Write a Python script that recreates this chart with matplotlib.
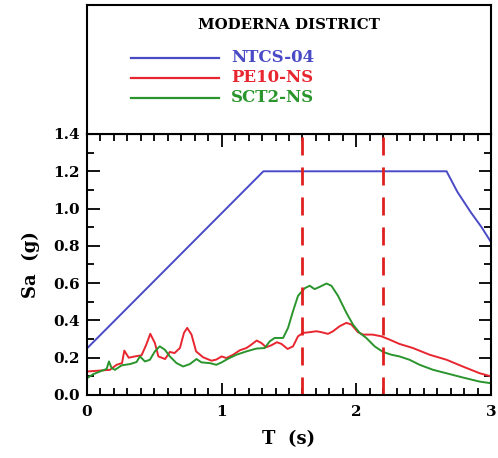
import matplotlib
matplotlib.use("Agg")
import matplotlib.pyplot as plt
from matplotlib.ticker import MultipleLocator

# Design spectrum NTCS-04 (period in s, spectral acceleration in g)
ntcs_T = [0.0, 1.31, 2.67, 2.75, 2.85, 2.93, 3.0]
ntcs_Sa = [0.25, 1.20, 1.20, 1.09, 0.98, 0.90, 0.82]

# Response spectrum PE10-NS
pe10_T = [0.0, 0.17, 0.22, 0.26, 0.277, 0.31, 0.356, 0.405, 0.44, 0.47, 0.504, 0.53,
          0.58, 0.615, 0.65, 0.69, 0.72, 0.744, 0.776, 0.81, 0.863, 0.925, 0.96, 1.0,
          1.035, 1.085, 1.135, 1.184, 1.22, 1.26, 1.295, 1.33, 1.37, 1.41, 1.444, 1.49,
          1.53, 1.567, 1.605, 1.654, 1.703, 1.74, 1.79, 1.827, 1.876, 1.926, 1.963,
          2.012, 2.05, 2.12, 2.185, 2.247, 2.32, 2.42, 2.544, 2.67, 2.79, 2.915, 3.0]
pe10_Sa = [0.126, 0.135, 0.162, 0.171, 0.238, 0.20, 0.207, 0.213, 0.27, 0.328, 0.279, 0.207,
           0.193, 0.231, 0.225, 0.252, 0.333, 0.36, 0.324, 0.234, 0.202, 0.184, 0.19, 0.207,
           0.198, 0.216, 0.24, 0.252, 0.27, 0.292, 0.279, 0.256, 0.267, 0.283, 0.274, 0.247,
           0.261, 0.315, 0.333, 0.337, 0.342, 0.337, 0.328, 0.342, 0.369, 0.387, 0.378,
           0.337, 0.324, 0.324, 0.315, 0.297, 0.274, 0.252, 0.216, 0.189, 0.153, 0.117, 0.10]

# Response spectrum SCT2-NS
sct2_T = [0.0, 0.047, 0.11, 0.146, 0.163, 0.183, 0.208, 0.257, 0.32, 0.368, 0.393, 0.43,
          0.467, 0.504, 0.54, 0.578, 0.615, 0.665, 0.714, 0.764, 0.813, 0.85, 0.912, 0.96,
          1.0, 1.048, 1.11, 1.184, 1.258, 1.32, 1.357, 1.394, 1.456, 1.493, 1.53, 1.567,
          1.617, 1.654, 1.69, 1.728, 1.778, 1.815, 1.864, 1.926, 1.975, 2.025, 2.074,
          2.136, 2.198, 2.26, 2.32, 2.395, 2.47, 2.57, 2.667, 2.79, 2.915, 3.0]
sct2_Sa = [0.09, 0.112, 0.13, 0.14, 0.18, 0.144, 0.135, 0.159, 0.166, 0.177, 0.207, 0.18,
           0.189, 0.234, 0.261, 0.243, 0.207, 0.171, 0.153, 0.166, 0.193, 0.175, 0.171, 0.162,
           0.175, 0.195, 0.216, 0.234, 0.249, 0.252, 0.288, 0.306, 0.306, 0.36, 0.45, 0.532,
           0.573, 0.586, 0.568, 0.58, 0.598, 0.586, 0.532, 0.441, 0.378, 0.333, 0.306,
           0.261, 0.231, 0.216, 0.207, 0.189, 0.162, 0.135, 0.117, 0.094, 0.072, 0.063]

# Period band limits
band_T = [1.6, 2.2]

series_names = ["NTCS-04", "PE10-NS", "SCT2-NS"]
colors = ["#4a4ac6", "#e82630", "#2a952c"]

font = "DejaVu Serif"

fig = plt.figure(figsize=(4.98, 4.58), dpi=100)
W, H = 498, 458
x0, x1 = 87, 491
y_top, y_mid, y_bot = 5, 134, 395

ax = fig.add_axes([x0 / W, 1 - y_bot / H, (x1 - x0) / W, (y_bot - y_mid) / H])
lg = fig.add_axes([x0 / W, 1 - y_mid / H, (x1 - x0) / W, (y_mid - y_top) / H])

ax.plot(ntcs_T, ntcs_Sa, color=colors[0], lw=1.4)
ax.plot(pe10_T, pe10_Sa, color=colors[1], lw=1.4)
ax.plot(sct2_T, sct2_Sa, color=colors[2], lw=1.4)
for t in band_T:
    ax.axvline(t, color="#e02020", lw=2.0, dashes=(6.5, 4.3))

ax.set_xlim(0, 3)
ax.set_ylim(0, 1.4)
ax.xaxis.set_major_locator(MultipleLocator(1))
ax.xaxis.set_minor_locator(MultipleLocator(0.1))
ax.yaxis.set_major_locator(MultipleLocator(0.2))
ax.yaxis.set_minor_locator(MultipleLocator(0.1))
ax.tick_params(which="both", direction="in", top=True, right=True, width=1.3)
ax.tick_params(which="major", length=9)
ax.tick_params(which="minor", length=5)
ax.set_xticks([0, 1, 2, 3])
ax.set_xticklabels(["0", "1", "2", "3"])
ax.set_yticks([0, 0.2, 0.4, 0.6, 0.8, 1.0, 1.2, 1.4])
ax.set_yticklabels(["0.0", "0.2", "0.4", "0.6", "0.8", "1.0", "1.2", "1.4"])
for lab in ax.get_xticklabels() + ax.get_yticklabels():
    lab.set_fontfamily(font)
    lab.set_fontweight("bold")
    lab.set_fontsize(11)
ax.tick_params(axis="x", pad=7)
ax.tick_params(axis="y", pad=5)
for s in ax.spines.values():
    s.set_linewidth(1.5)

ax.set_xlabel("T  (s)", fontfamily=font, fontweight="bold", fontsize=13, labelpad=8)
ax.set_ylabel("Sa  (g)", fontfamily=font, fontweight="bold", fontsize=13, labelpad=10)

# Header panel with title and legend
lg.set_xlim(0, 1)
lg.set_ylim(0, 1)
lg.set_xticks([])
lg.set_yticks([])
for s in lg.spines.values():
    s.set_linewidth(1.5)
lg.text(0.5, 0.845, "MODERNA DISTRICT", ha="center", va="center",
        fontfamily=font, fontweight="bold", fontsize=10.8)
rows_y = [0.59, 0.435, 0.28]
for name, c, yy in zip(series_names, colors, rows_y):
    lg.plot([0.110, 0.327], [yy, yy], color=c, lw=1.6)
    lg.text(0.357, yy, name, ha="left", va="center", color=c,
            fontfamily=font, fontweight="bold", fontsize=12)

fig.savefig("out.png", dpi=100)
